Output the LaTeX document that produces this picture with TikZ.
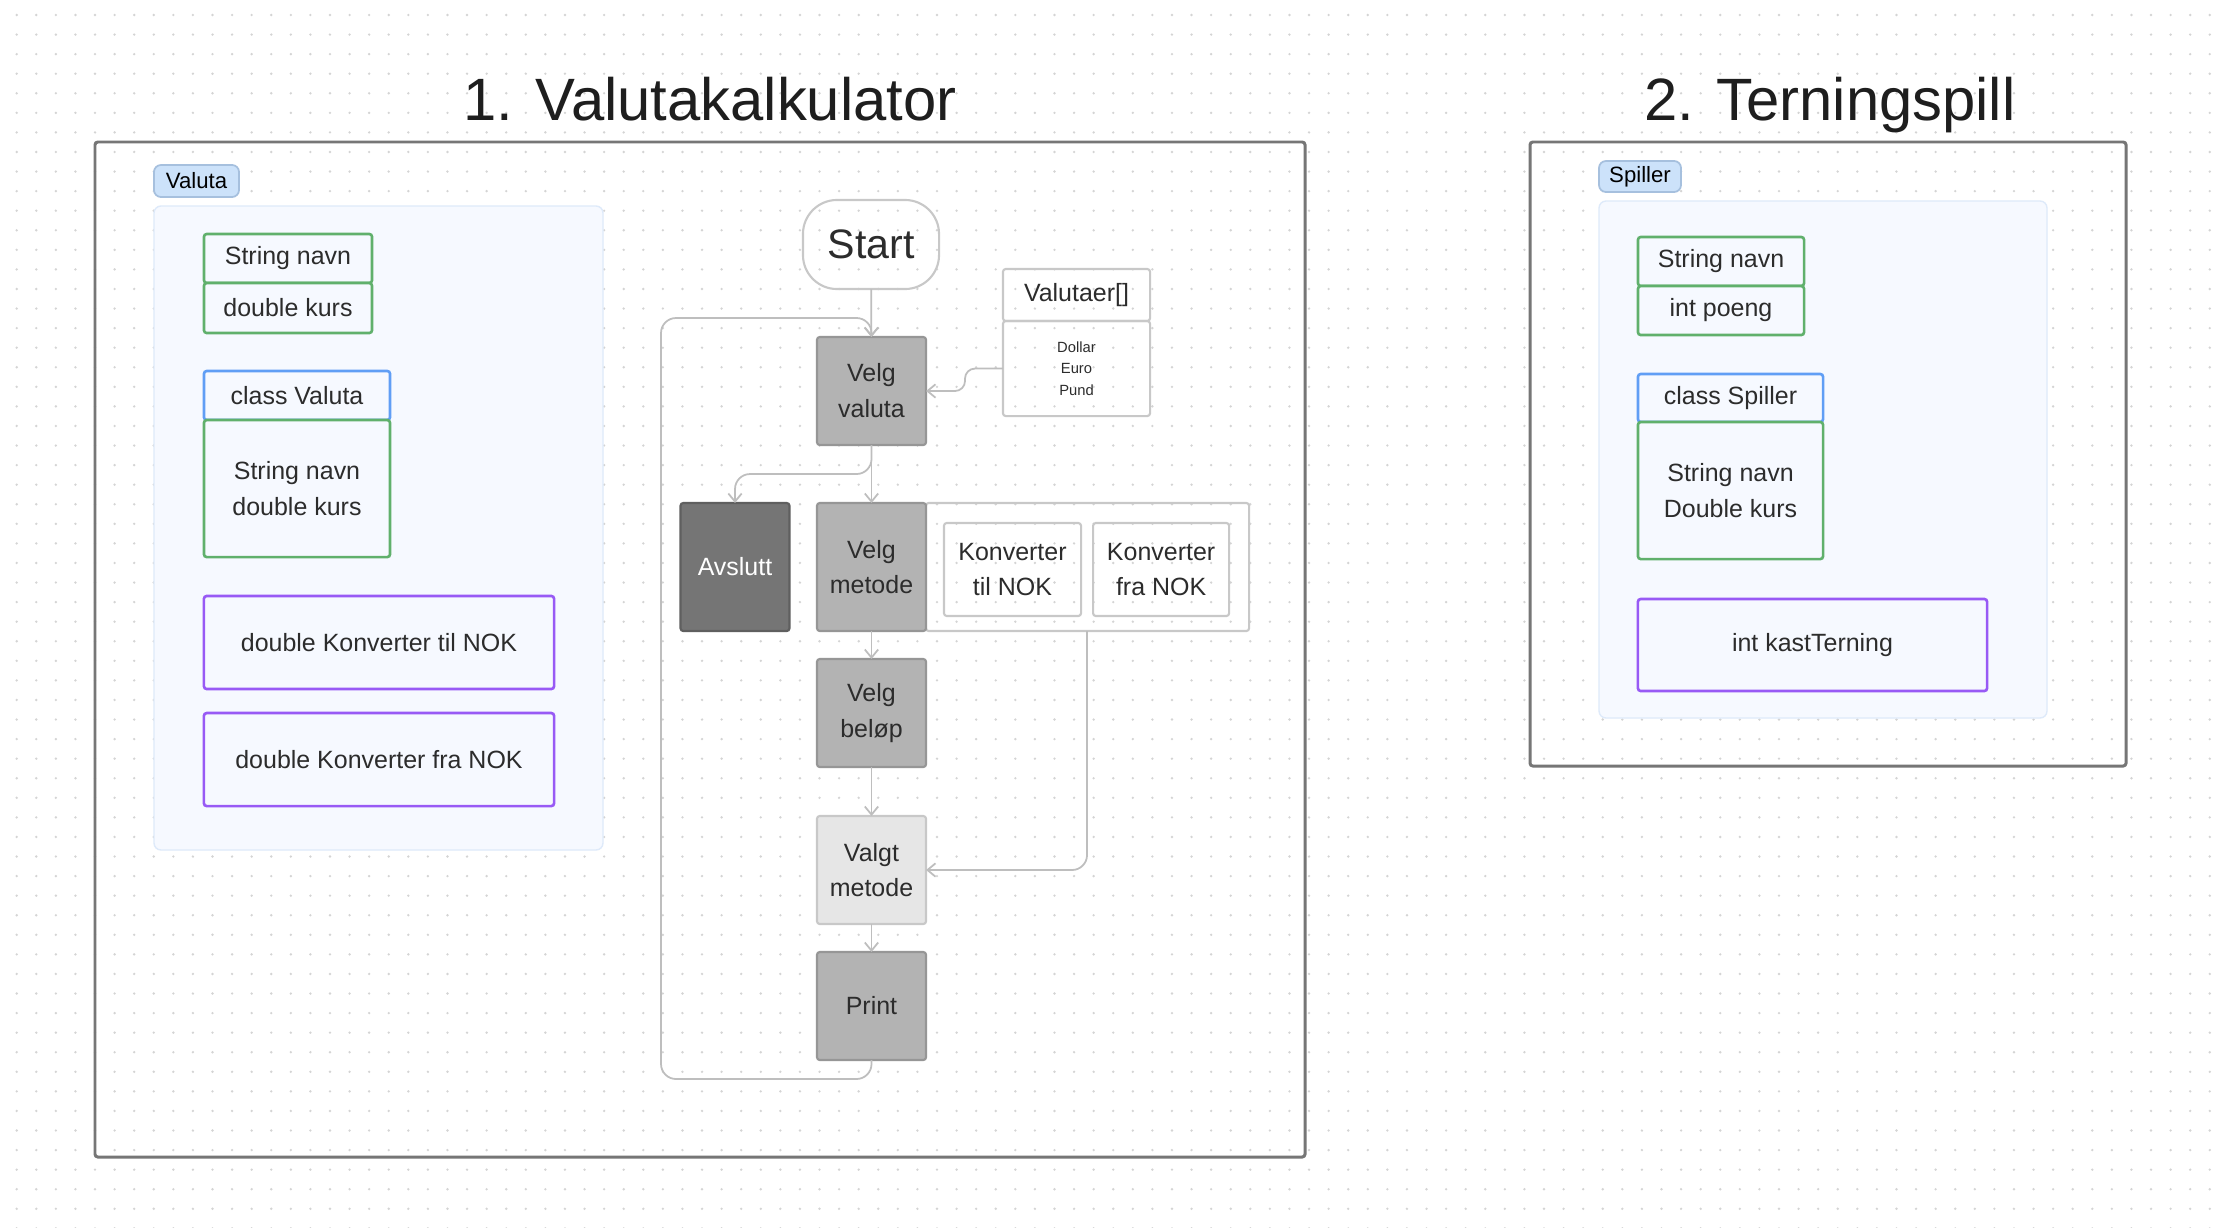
\documentclass[tikz,border=0pt]{standalone}
\usepackage{fontspec}
\setmainfont{Liberation Sans}
\usetikzlibrary{positioning,arrows.meta,calc}
\definecolor{textColor}{RGB}{44,44,44}
\definecolor{titleColor}{RGB}{30,30,30}
\definecolor{frameColor}{RGB}{118,118,118}
\definecolor{dotColor}{RGB}{212,212,212}
\definecolor{tagFill}{RGB}{204,226,250}
\definecolor{tagDraw}{RGB}{166,192,222}
\definecolor{groupFill}{RGB}{246,249,255}
\definecolor{groupDraw}{RGB}{222,234,250}
\definecolor{fieldColor}{RGB}{96,176,108}
\definecolor{classColor}{RGB}{96,158,245}
\definecolor{methodColor}{RGB}{152,90,245}
\definecolor{stepFill}{RGB}{179,179,179}
\definecolor{stepDraw}{RGB}{150,150,150}
\definecolor{exitFill}{RGB}{117,117,117}
\definecolor{exitDraw}{RGB}{95,95,95}
\definecolor{pickFill}{RGB}{230,230,230}
\definecolor{pickDraw}{RGB}{200,200,200}
\definecolor{lineColor}{RGB}{190,190,190}

\begin{document}
\begin{tikzpicture}[x=0.01cm,y=-0.01cm,textColor]
  \tikzstyle{boxbase} = [rectangle,inner sep=0pt,outer sep=0pt,align=center,font=\fontsize{7.1}{10.2}\selectfont,rounded corners=0.8pt]
  \tikzstyle{fieldbox} = [boxbase,draw=fieldColor,line width=0.75pt,fill=groupFill]
  \tikzstyle{classbox} = [boxbase,draw=classColor,line width=0.75pt,fill=groupFill]
  \tikzstyle{methodbox} = [boxbase,draw=methodColor,line width=0.75pt,fill=groupFill]
  \tikzstyle{tagbox} = [boxbase,draw=tagDraw,fill=tagFill,line width=0.5pt,rounded corners=2pt,font=\fontsize{6.3}{7}\selectfont,text=black]
  \tikzstyle{groupbox} = [draw=groupDraw,fill=groupFill,line width=0.4pt,rounded corners=2pt]
  \tikzstyle{framebox} = [draw=frameColor,line width=0.85pt,rounded corners=0.8pt]
  \tikzstyle{stepbox} = [boxbase,draw=stepDraw,fill=stepFill,line width=0.6pt,minimum width=1.09cm,minimum height=1.08cm]
  \tikzstyle{plainbox} = [boxbase,draw=pickDraw,line width=0.6pt]
  \tikzstyle{flowline} = [draw=lineColor,line width=0.5pt,->]
  \tikzstyle{titletext} = [font=\fontsize{17}{20}\selectfont,text=titleColor,anchor=base]
  \tikzset{>={Straight Barb[length=2.3pt,width=3.8pt]}}

  \useasboundingbox (0,0) rectangle (2225,1227);
  \fill[white] (0,0) rectangle (2225,1227);
  % dot grid
  \foreach \r in {0,...,62}
    \draw[dotColor,line width=0.75pt,line cap=round,dash pattern=on 0pt off 0.1957cm] (16.7,15+19.57*\r) -- (2225,15+19.57*\r);

  \draw[framebox] (95,142) rectangle (1305,1157);
  \draw[framebox] (1530,142) rectangle (2126,766);
  \node[titletext] (title1) at (710,120) {1. Valutakalkulator};
  \node[titletext] (title2) at (1830,120) {2. Terningspill};

  % class Valuta
  \draw[groupbox] (154,206) rectangle (603,850);
  \node[tagbox,minimum width=0.85cm,minimum height=0.32cm] (tagL) at (196.5,181) {Valuta};
  \node[fieldbox,minimum width=1.68cm,minimum height=0.49cm] (snL) at (288,258.5) {String navn};
  \node[fieldbox,minimum width=1.68cm,minimum height=0.50cm,below=0pt of snL] (dkL) {double kurs};
  \node[classbox,minimum width=1.86cm,minimum height=0.49cm] (clsL) at (297,395.5) {class Valuta};
  \node[fieldbox,minimum width=1.86cm,minimum height=1.37cm,below=0pt of clsL] (attL) {String navn\\double kurs};
  \node[methodbox,minimum width=3.5cm,minimum height=0.93cm] (tilL) at (379,642.5) {double Konverter til NOK};
  \node[methodbox,minimum width=3.5cm,minimum height=0.93cm,below=0.24cm of tilL] (fraL) {double Konverter fra NOK};

  % flow
  \node[plainbox,minimum width=1.36cm,minimum height=0.89cm,rounded corners=0.34cm,font=\fontsize{11.7}{14}\selectfont] (start) at (871,244.5) {Start};
  \node[stepbox] (velgval) at (871.5,391) {Velg\\valuta};
  \node[plainbox,minimum width=1.47cm,minimum height=0.52cm] (valhead) at (1076.5,295) {Valutaer[]};
  \node[plainbox,minimum width=1.47cm,minimum height=0.95cm,below=0pt of valhead,font=\fontsize{4.2}{6.2}\selectfont] (vallist) {Dollar\\Euro\\Pund};
  \node[stepbox,fill=exitFill,draw=exitDraw,text=white,minimum height=1.28cm] (avslutt) at (735,567) {Avslutt};
  \node[plainbox,minimum width=3.23cm,minimum height=1.28cm] (konv) at (1087.5,567) {};
  \node[stepbox,minimum height=1.28cm] (velgmet) at (871.5,567) {Velg\\metode};
  \node[plainbox,minimum width=1.37cm,minimum height=0.93cm] (ktil) at (1012.5,569.5) {Konverter\\til NOK};
  \node[plainbox,minimum width=1.36cm,minimum height=0.93cm,right=0.12cm of ktil] (kfra) {Konverter\\fra NOK};
  \node[stepbox] (velgbel) at (871.5,713) {Velg\\beløp};
  \node[stepbox,fill=pickFill,draw=pickDraw] (valgt) at (871.5,870) {Valgt\\metode};
  \node[stepbox] (print) at (871.5,1006) {Print};

  \draw[flowline] (start) -- (velgval);
  \draw[flowline] (velgval) -- (velgmet);
  \draw[flowline] (velgmet) -- (velgbel);
  \draw[flowline] (velgbel) -- (valgt);
  \draw[flowline] (valgt) -- (print);
  \draw[flowline,rounded corners=0.1cm] (vallist.west) -| (965,391) -- (velgval.east);
  \draw[flowline,rounded corners=0.15cm] (velgval.south) -- ++(0,29) -| (avslutt.north);
  \coordinate (kmid) at ($(ktil.east)!.5!(kfra.west)$);
  \draw[flowline,rounded corners=0.15cm] (kmid |- konv.south) |- (valgt.east);
  \coordinate (loopBL) at (661,1079);
  \coordinate (loopTL) at (661,318);
  \draw[flowline,rounded corners=0.15cm] (print.south) |- (loopBL) -- (loopTL) -| (velgval.north);

  % class Spiller
  \draw[groupbox] (1599,201) rectangle (2047,718);
  \node[tagbox,minimum width=0.82cm,minimum height=0.31cm] (tagR) at (1640,176.5) {Spiller};
  \node[fieldbox,minimum width=1.66cm,minimum height=0.49cm] (snR) at (1721,261.5) {String navn};
  \node[fieldbox,minimum width=1.66cm,minimum height=0.49cm,below=0pt of snR] (ipR) {int poeng};
  \node[classbox,minimum width=1.85cm,minimum height=0.48cm] (clsR) at (1730.5,398) {class Spiller};
  \node[fieldbox,minimum width=1.85cm,minimum height=1.37cm,below=0pt of clsR] (attR) {String navn\\Double kurs};
  \node[methodbox,minimum width=3.49cm,minimum height=0.92cm] (kastR) at (1812.5,645) {int kastTerning};
\end{tikzpicture}
\end{document}
